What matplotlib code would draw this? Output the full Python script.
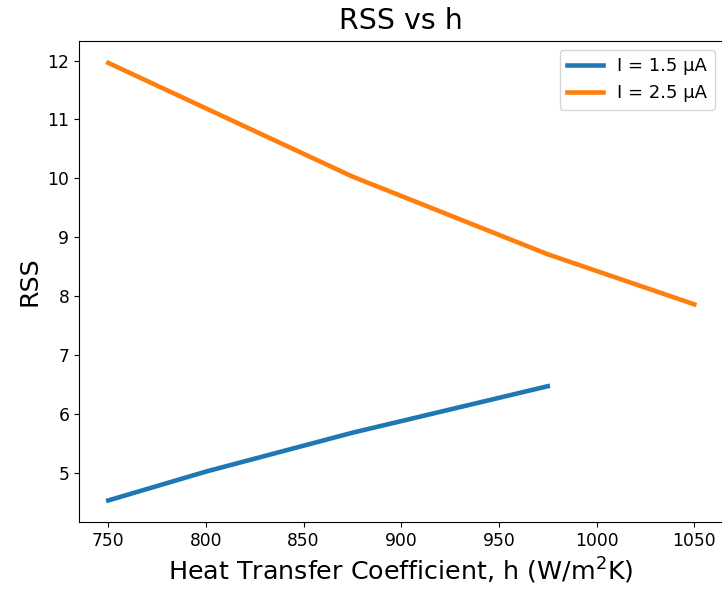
import matplotlib
matplotlib.use("Agg")
import matplotlib.pyplot as plt

# Heat transfer coefficient h (W/m^2K) and residual sum of squares per current
h_low = [750, 800, 875, 975]
rss_low = [4.53, 5.02, 5.68, 6.47]

h_high = [750, 875, 975, 1050]
rss_high = [11.96, 10.03, 8.71, 7.86]

labels = ["I = 1.5 \u03bcA", "I = 2.5 \u03bcA"]

fig = plt.figure(figsize=(7.22, 5.92), dpi=100)
ax = fig.add_axes([0.1094, 0.1177, 0.8928, 0.813])

ax.plot(h_low, rss_low, color="#1f77b4", lw=3.3, label=labels[0])
ax.plot(h_high, rss_high, color="#ff7f0e", lw=3.3, label=labels[1])

ax.set_title("RSS vs h", fontsize=20.5, pad=9)
ax.set_xlabel("Heat Transfer Coefficient, h (W/m$^2$K)", fontsize=18.3)
ax.set_ylabel("RSS", fontsize=18.3)
ax.tick_params(labelsize=12.3)
ax.legend(loc="upper right", fontsize=13)

fig.savefig("out.png", dpi=100)
